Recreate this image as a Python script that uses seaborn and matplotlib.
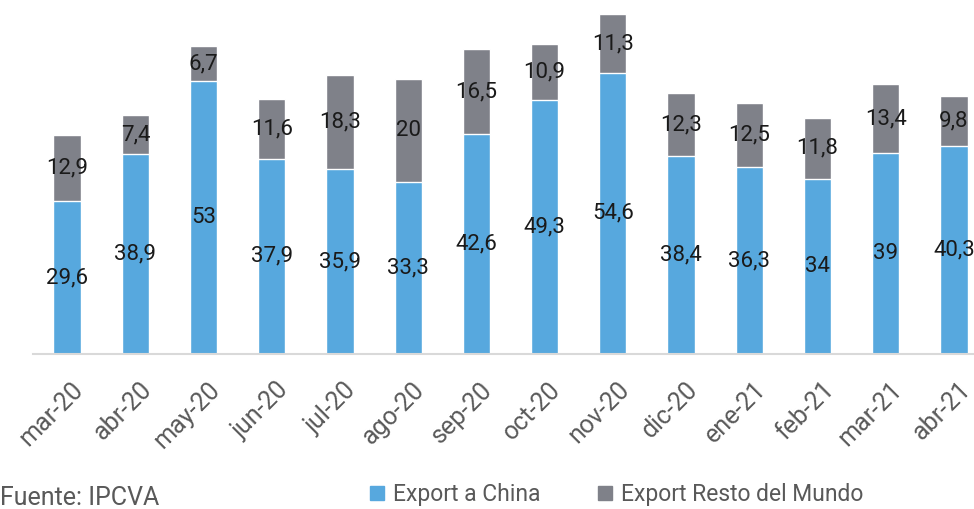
import matplotlib
matplotlib.use("Agg")
import matplotlib.pyplot as plt
import pandas as pd
import seaborn as sns
from matplotlib.lines import Line2D

months = ["mar-20", "abr-20", "may-20", "jun-20", "jul-20", "ago-20", "sep-20",
          "oct-20", "nov-20", "dic-20", "ene-21", "feb-21", "mar-21", "abr-21"]
china = [29.6, 38.9, 53, 37.9, 35.9, 33.3, 42.6, 49.3, 54.6, 38.4, 36.3, 34, 39, 40.3]
resto = [12.9, 7.4, 6.7, 11.6, 18.3, 20, 16.5, 10.9, 11.3, 12.3, 12.5, 11.8, 13.4, 9.8]

BLUE = "#57A8DE"
GRAY = "#7F8189"
TXT = "#595959"

df = pd.DataFrame({"mes": months, "china": china, "resto": resto})
df["total"] = df["china"] + df["resto"]

sns.set_style("white")
plt.rcParams["font.family"] = ["Roboto", "DejaVu Sans"]

fig = plt.figure(figsize=(9.74, 5.09), dpi=100)
ax = fig.add_axes([33 / 974, 155 / 509, 955 / 974, 354 / 509])

# gray = total, blue drawn over it -> stacked look
sns.barplot(data=df, x="mes", y="total", color=GRAY, width=0.4, saturation=1, ax=ax)
sns.barplot(data=df, x="mes", y="china", color=BLUE, width=0.4, saturation=1, ax=ax)

def fmt(v):
    s = f"{v:.1f}".replace(".", ",")
    return s[:-2] if s.endswith(",0") else s

for i, (c, r) in enumerate(zip(china, resto)):
    ax.text(i, c / 2, fmt(c), ha="center", va="center", fontsize=16, color="#1a1a1a")
    ax.text(i, c + r / 2, fmt(r), ha="center", va="center", fontsize=16, color="#1a1a1a")

ax.set_xlim(-0.5, len(months) - 0.5)
ax.set_ylim(0, 68.7)
ax.set_xlabel("")
ax.set_ylabel("")
ax.set_yticks([])
for s in ["top", "right", "left"]:
    ax.spines[s].set_visible(False)
ax.spines["bottom"].set_color("#D9D9D9")
ax.spines["bottom"].set_linewidth(1.5)

ax.set_xticks([i + 0.06 for i in range(len(months))])
ax.set_xticklabels(months, rotation=45, ha="right", rotation_mode="anchor",
                   fontsize=18, color=TXT)
ax.tick_params(axis="x", which="major", length=0, pad=17)
ax.set_xticks([i - 0.5 for i in range(len(months) + 1)], minor=True)
ax.tick_params(axis="x", which="minor", length=8, width=1.5, color="#D9D9D9", direction="out")

handles = [
    Line2D([], [], marker="s", linestyle="", markersize=10, color=BLUE),
    Line2D([], [], marker="s", linestyle="", markersize=10, color=GRAY),
]
fig.legend(handles, ["Export a China", "Export Resto del Mundo"], ncol=2, frameon=False,
           loc="center left", bbox_to_anchor=(368 / 974, 1 - 495 / 509),
           labelcolor=TXT, handlelength=0.8, handletextpad=0.3,
           columnspacing=2.4, borderpad=0, borderaxespad=0,
           prop={"size": 16.5})

fig.text(0.0, 1 - 505 / 509, "Fuente: IPCVA", fontsize=18, color=TXT,
         va="baseline")

fig.savefig("out.png", dpi=100)
